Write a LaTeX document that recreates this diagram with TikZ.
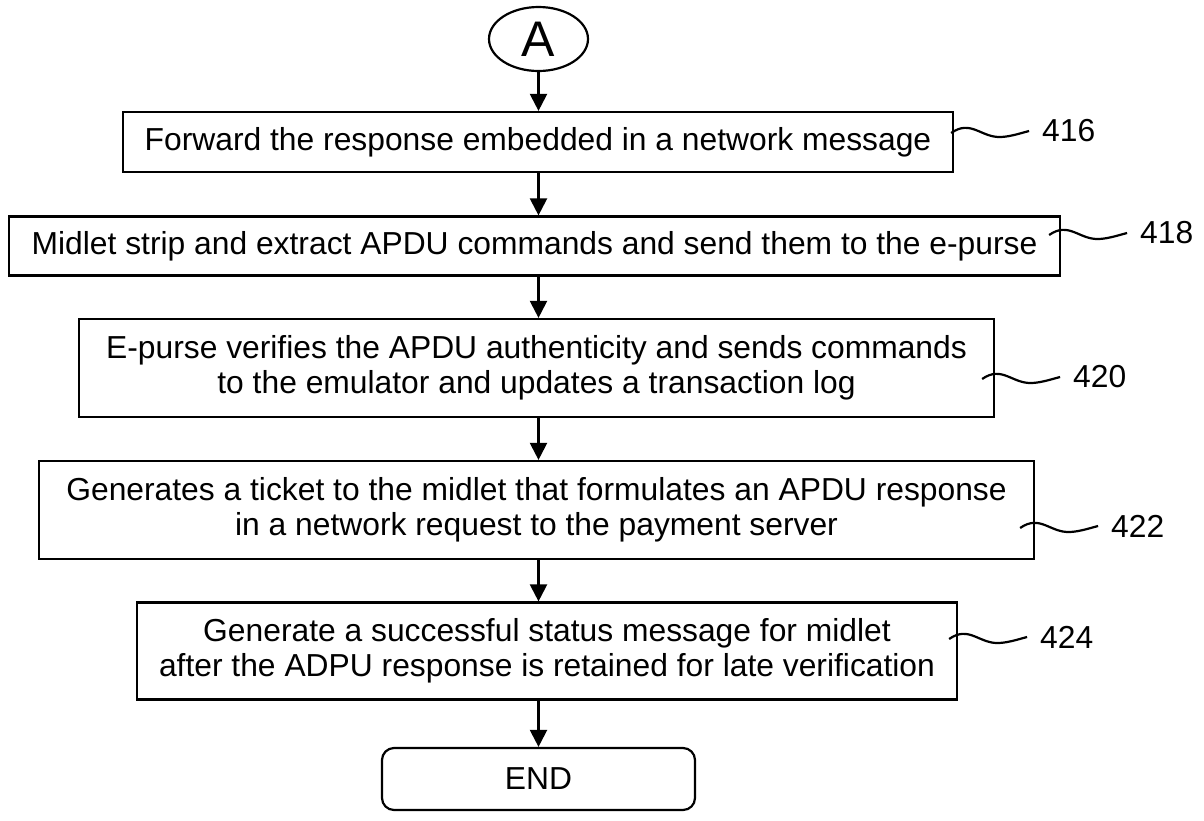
\documentclass[tikz,border=0pt]{standalone}
\usepackage{fontspec}
\setmainfont{Liberation Sans}
\usetikzlibrary{shapes.geometric,arrows.meta}

\begin{document}
\begin{tikzpicture}[x=1pt, y=-1pt, line width=2.2pt,
    every node/.style={font=\fontsize{31.8}{35}\selectfont, inner sep=0pt},
    box/.style={draw, rectangle, align=center},
    arr/.style={-{Triangle[width=17pt,length=17pt]}},
    squig/.style={line width=2.2pt},
    lbl/.style={anchor=west, inner sep=0pt, xshift=12pt}]
        \useasboundingbox (0,0) rectangle (1204,820);

        \node[draw, ellipse, minimum width=99, minimum height=64, font=\fontsize{50}{52}\selectfont] (a) at (538.5, 39) {A};
        \node[box, minimum width=830, minimum height=60] (s416) at (538, 142) {Forward the response embedded in a network message};
        \node[box, minimum width=1051, minimum height=59] (s418) at (534.5, 246) {Midlet strip and extract APDU commands and send them to the e-purse};
        \node[box, minimum width=915, minimum height=98] (s420) at (536.5, 368) {E-purse verifies the APDU authenticity and sends commands\\to the emulator and updates a transaction log};
        \node[box, minimum width=995, minimum height=98] (s422) at (536.5, 510) {Generates a ticket to the midlet that formulates an APDU response\\in a network request to the payment server};
        \node[box, minimum width=820, minimum height=97] (s424) at (547, 651) {Generate a successful status message for midlet\\after the ADPU response is retained for late verification};
        \node[box, rounded corners=12pt, minimum width=313, minimum height=62] (end) at (538.5, 779) {END};

        \draw[arr] (a) -- (s416.north -| a);
        \draw[arr] (s416.south -| a) -- (s418.north -| a);
        \draw[arr] (s418.south -| a) -- (s420.north -| a);
        \draw[arr] (s420.south -| a) -- (s422.north -| a);
        \draw[arr] (s422.south -| a) -- (s424.north -| a);
        \draw[arr] (s424.south -| end) -- (end);

        % reference numerals
        \coordinate (c416) at ([shift={(-3,-9)}]s416.east);
        \coordinate (c418) at ([shift={(-12,-11)}]s418.east);
        \coordinate (c420) at ([shift={(-13,11)}]s420.east);
        \coordinate (c422) at ([shift={(-15,18)}]s422.east);
        \coordinate (c424) at ([shift={(-9,-12)}]s424.east);

        \draw[squig, shift={(c416)}] (0,0) .. controls (20,-14) and (30,5) .. (50,4) .. controls (60,3.5) and (70,0) .. (78,-2) node[lbl] (l416) {416};
        \draw[squig, shift={(c418)}] (0,0) .. controls (20,-14) and (30,5) .. (50,4) .. controls (60,3.5) and (70,0) .. (78,-2) node[lbl] (l418) {418};
        \draw[squig, shift={(c420)}] (0,0) .. controls (20,-14) and (30,5) .. (50,4) .. controls (60,3.5) and (70,0) .. (78,-2) node[lbl] (l420) {420};
        \draw[squig, shift={(c422)}] (0,0) .. controls (20,-14) and (30,5) .. (50,4) .. controls (60,3.5) and (70,0) .. (78,-2) node[lbl] (l422) {422};
        \draw[squig, shift={(c424)}] (0,0) .. controls (20,-14) and (30,5) .. (50,4) .. controls (60,3.5) and (70,0) .. (78,-2) node[lbl] (l424) {424};
    \end{tikzpicture}
\end{document}
